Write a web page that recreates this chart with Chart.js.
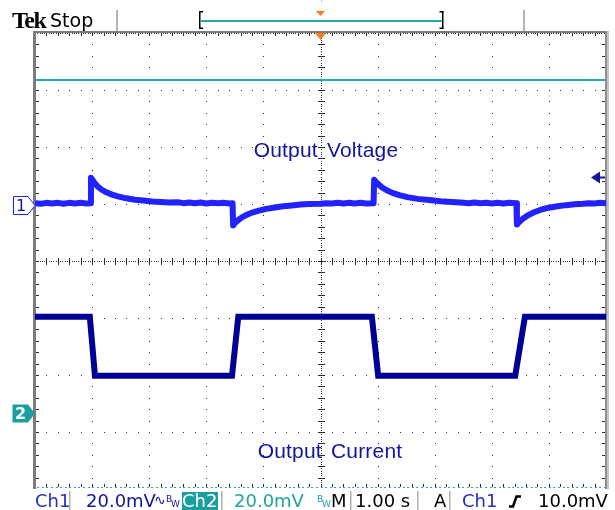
<!DOCTYPE html>
<html lang="en">
<head>
<meta charset="UTF-8">
<title>Output Voltage / Output Current</title>
<script src="https://cdn.jsdelivr.net/npm/chart.js@4.4.1/dist/chart.umd.min.js"></script>
<style>
  html, body { margin: 0; padding: 0; background: #fff; }
  canvas { display: block; }
</style>
</head>
<body>
<canvas id="scope" width="615" height="510"></canvas>
<script>
// time axis: 1.00 s/div, 10 div
// Ch1 = output voltage (mV, AC coupled), Ch2 = output current sense (mV)
const ch1Time = [0, 0.1, 0.2, 0.3, 0.4, 0.5, 0.6, 0.7, 0.8, 0.9, 0.97,
  0.98, 1.01, 1.05, 1.1, 1.17, 1.25, 1.35, 1.45, 1.6, 1.75, 1.9, 2.05, 2.2, 2.35, 2.5, 2.6, 2.7, 2.8, 2.9, 3.0, 3.1, 3.2, 3.3, 3.4, 3.46,
  3.47, 3.5, 3.56, 3.63, 3.72, 3.82, 3.92, 4.05, 4.2, 4.35, 4.5, 4.65, 4.8, 5.0, 5.1, 5.2, 5.3, 5.4, 5.5, 5.6, 5.7, 5.8, 5.93,
  5.94, 5.97, 6.02, 6.08, 6.16, 6.26, 6.38, 6.52, 6.7, 6.9, 7.1, 7.3, 7.45, 7.6, 7.7, 7.8, 7.9, 8.0, 8.1, 8.2, 8.3, 8.43,
  8.44, 8.48, 8.55, 8.64, 8.74, 8.86, 9.0, 9.15, 9.3, 9.45, 9.6, 9.7, 9.8, 9.9, 10];
const ch1Value = [0.7, 0.5, 0.8, 0.6, 0.8, 0.5, 0.8, 0.6, 0.8, 0.6, 0.7,
  9.6, 8.8, 7.6, 6.5, 5.4, 4.5, 3.7, 3.1, 2.4, 1.9, 1.6, 1.3, 1.1, 0.9, 1.0, 0.7, 0.9, 0.7, 0.9, 0.6, 0.8, 0.7, 0.8, 0.6, 0.7,
  -7.1, -6.3, -5.2, -4.2, -3.3, -2.5, -1.9, -1.3, -0.8, -0.4, -0.1, 0.2, 0.4, 0.5, 0.7, 0.6, 0.8, 0.6, 0.8, 0.6, 0.8, 0.6, 0.7,
  8.9, 8.2, 7.2, 6.2, 5.2, 4.3, 3.5, 2.8, 2.2, 1.8, 1.4, 1.1, 0.9, 0.7, 0.9, 0.7, 0.8, 0.6, 0.8, 0.6, 0.8, 0.7,
  -6.8, -5.9, -4.7, -3.5, -2.5, -1.6, -0.9, -0.4, 0.0, 0.3, 0.5, 0.7, 0.6, 0.8, 0.7];
const ch2Time = [0, 0.96, 1.05, 3.45, 3.56, 5.90, 6.01, 8.41, 8.58, 10];
const ch2Value = [33.8, 33.8, 13.1, 13.1, 33.8, 33.8, 13.1, 13.1, 33.8, 33.8];

const mvPerDiv = [20, 20];
const chPosition = [0.98, -2.67];   // ground marker, divisions from centre
const triggerLevel = 10;           // mV on Ch1
const traceLabels = ['Output Voltage', 'Output Current'];

const BLUE = '#2222ff', NAVY = '#14149a', TEAL = '#1a9e9e', ORANGE = '#ff7a1a';

function pts(xs, ys) {
  return xs.map((t, i) => ({ x: t, y: ys[i] }));
}
function chRange(i) {
  return { min: -(4 + chPosition[i]) * mvPerDiv[i], max: (4 - chPosition[i]) * mvPerDiv[i] };
}

const graticule = {
  id: 'graticule',
  beforeDatasetsDraw(chart) {
    const { ctx, scales } = chart;
    const px = v => Math.round(scales.x.getPixelForValue(v));
    const py = v => Math.round(scales.div.getPixelForValue(v));
    const top = py(4), bot = py(-4), left = px(0), right = px(10);
    ctx.save();
    ctx.fillStyle = '#2a2a2a';
    for (let i = 1; i < 10; i++) {
      if (i === 5) continue;
      for (let j = 1; j < 40; j++) ctx.fillRect(px(i), py(-4 + j / 5), 1, 1);
    }
    for (let k = -3; k <= 3; k++) {
      if (k === 0) continue;
      for (let j = 1; j < 50; j++) ctx.fillRect(px(j / 5), py(k), 1, 1);
    }
    // centre axes
    const cx = px(5), cy = py(0);
    for (let j = 1; j < 250; j++) if (j % 5) ctx.fillRect(px(j / 25), cy, 1, 1);
    for (let j = 1; j < 50; j++) ctx.fillRect(px(j / 5), cy - 3, 1, 7);
    for (let j = 1; j < 200; j++) if (j % 5) ctx.fillRect(cx, py(-4 + j / 25), 1, 1);
    for (let j = 1; j < 40; j++) ctx.fillRect(cx - 3, py(-4 + j / 5), 7, 1);
    // edge ticks
    for (let j = 1; j < 40; j++) {
      ctx.fillRect(left + 1, py(-4 + j / 5), 3, 1);
      ctx.fillRect(right - 4, py(-4 + j / 5), 3, 1);
    }
    for (let j = 1; j < 50; j++) ctx.fillRect(px(j / 5), top, 1, 3);
    for (let j = 1; j < 250; j++) ctx.fillRect(px(j / 25), top, 1, 1);
    for (let j = 1; j < 50; j++) ctx.fillRect(px(j / 5), bot - 5, 1, 3);
    // borders
    ctx.fillStyle = '#7c7c7c';
    ctx.fillRect(left - 2, top - 2, 3, bot - top + 2);
    ctx.fillRect(left - 2, top - 2, right - left + 4, 2);
    ctx.fillStyle = '#8e8e8e';
    ctx.fillRect(right - 1, top - 2, 2, bot - top + 2);
    ctx.fillStyle = '#c6c6c6';
    ctx.fillRect(right + 1, top - 2, 2, bot - top + 2);
    // teal reference lines
    ctx.fillStyle = '#2aa8a8';
    ctx.fillRect(left + 1, py(3.18) - 1, right - left - 2, 2);
    for (let j = 1; j < 250; j++) if (j % 2) ctx.fillRect(px(j / 25), bot - 2, 2, 1);
    ctx.restore();
  },
  afterDatasetsDraw(chart) {
    const { ctx, scales } = chart;
    const x0 = scales.x.getPixelForValue(0);
    const xr = scales.x.getPixelForValue(10);
    const xc = scales.x.getPixelForValue(5);
    const top = scales.div.getPixelForValue(4);
    ctx.save();
    // trigger position marker
    ctx.fillStyle = ORANGE;
    ctx.beginPath();
    ctx.moveTo(xc - 5.5, top); ctx.lineTo(xc + 5.5, top); ctx.lineTo(xc, top + 7);
    ctx.closePath(); ctx.fill();
    // ch1 ground marker
    let y = Math.round(scales.y1.getPixelForValue(0)) + 0.5;
    ctx.beginPath();
    ctx.moveTo(13.5, y - 9); ctx.lineTo(28, y - 9); ctx.lineTo(x0, y);
    ctx.lineTo(28, y + 9); ctx.lineTo(13.5, y + 9); ctx.closePath();
    ctx.fillStyle = '#fff'; ctx.fill();
    ctx.strokeStyle = BLUE; ctx.lineWidth = 1; ctx.stroke();
    ctx.fillStyle = NAVY;
    ctx.font = '16px "DejaVu Sans"';
    ctx.textAlign = 'center'; ctx.textBaseline = 'middle';
    ctx.fillText('1', 21, y + 1);
    // ch2 ground marker
    y = Math.round(scales.y2.getPixelForValue(0)) + 0.5;
    ctx.beginPath();
    ctx.moveTo(12.5, y - 9); ctx.lineTo(28, y - 9); ctx.lineTo(x0, y);
    ctx.lineTo(28, y + 9); ctx.lineTo(12.5, y + 9); ctx.closePath();
    ctx.fillStyle = TEAL; ctx.fill();
    ctx.fillStyle = '#fff';
    ctx.font = 'bold 16px "DejaVu Sans"';
    ctx.fillText('2', 20.5, y + 1);
    // trigger level arrow
    y = Math.round(scales.y1.getPixelForValue(triggerLevel)) + 0.5;
    ctx.fillStyle = NAVY;
    ctx.beginPath();
    ctx.moveTo(xr - 15, y); ctx.lineTo(xr - 6, y - 6); ctx.lineTo(xr - 6, y + 6);
    ctx.closePath(); ctx.fill();
    ctx.fillRect(xr - 7, y - 1, 6, 2);
    // trace labels
    ctx.font = '21px "Liberation Sans"';
    ctx.letterSpacing = '0.2px';
    ctx.wordSpacing = '3px';
    ctx.textAlign = 'center'; ctx.textBaseline = 'alphabetic';
    ctx.fillStyle = NAVY;
    ctx.fillText(traceLabels[0], 326, 157);
    ctx.fillText(traceLabels[1], 330, 458);
    ctx.restore();
  },
  afterDraw(chart) {
    const { ctx, scales } = chart;
    const xc = scales.x.getPixelForValue(5);
    ctx.save();
    // top bar
    ctx.fillStyle = '#000';
    ctx.textBaseline = 'alphabetic'; ctx.textAlign = 'left';
    ctx.font = 'bold 24px "Liberation Serif"';
    ctx.letterSpacing = '-1.5px';
    ctx.fillText('Tek', 12, 28);
    ctx.letterSpacing = '0px';
    ctx.font = '19px "DejaVu Sans"';
    ctx.fillText('Stop', 50, 27);
    ctx.fillStyle = '#b4b4b4';
    ctx.fillRect(116, 10, 2, 21);
    ctx.fillRect(523, 10, 2, 21);
    ctx.fillStyle = '#000';
    ctx.fillRect(199, 11, 1.5, 18); ctx.fillRect(199, 11, 4, 1.5); ctx.fillRect(199, 27.5, 4, 1.5);
    ctx.fillRect(442, 11, 1.5, 18); ctx.fillRect(439.5, 11, 4, 1.5); ctx.fillRect(439.5, 27.5, 4, 1.5);
    ctx.fillStyle = '#2aa8a8';
    ctx.fillRect(200, 20, 242, 2);
    ctx.fillStyle = ORANGE;
    ctx.beginPath();
    ctx.moveTo(xc - 4.5, 11); ctx.lineTo(xc + 4.5, 11); ctx.lineTo(xc, 16);
    ctx.closePath(); ctx.fill();
    ctx.fillStyle = '#c0c0c0';
    ctx.fillRect(Math.round(xc), 0, 1, 2);
    // status bar
    const base = 507;
    ctx.font = '18px "DejaVu Sans"';
    ctx.fillStyle = '#2030c0';
    ctx.fillText('Ch1', 35, base);
    ctx.fillStyle = NAVY;
    ctx.fillText('20.0mV', 86, base);
    ctx.font = '14px "DejaVu Sans"';
    ctx.fillText('\u223F', 154, base - 2);
    ctx.font = '9px "DejaVu Sans"';
    ctx.fillText('B', 166, 502); ctx.fillText('W', 171, 507);
    ctx.fillStyle = TEAL;
    ctx.fillRect(182, 492, 36, 18);
    ctx.font = '18px "DejaVu Sans"';
    ctx.fillStyle = '#fff';
    ctx.fillText('Ch2', 182, base);
    ctx.fillStyle = '#1fa3a3';
    ctx.fillText('20.0mV', 234, base);
    ctx.font = '9px "DejaVu Sans"';
    ctx.fillText('B', 317, 502); ctx.fillText('W', 322, 507);
    ctx.font = '18px "DejaVu Sans"';
    ctx.fillStyle = '#000';
    ctx.fillText('M', 331, base);
    ctx.fillText('1.00 s', 355, base);
    ctx.fillText('A', 434, base);
    ctx.fillStyle = '#2030c0';
    ctx.fillText('Ch1', 462, base);
    ctx.fillStyle = '#000';
    ctx.fillText('10.0mV', 538, base);
    ctx.lineWidth = 2.5; ctx.strokeStyle = '#000';
    ctx.beginPath();
    ctx.moveTo(509, 506.5); ctx.lineTo(513, 506.5); ctx.lineTo(516.5, 496.5); ctx.lineTo(521, 496.5);
    ctx.stroke();
    ctx.fillStyle = '#b0b0b0';
    [69, 221, 350, 417, 449].forEach(sx => ctx.fillRect(sx, 491, 1.5, 19));
    ctx.restore();
  }
};

new Chart(document.getElementById('scope'), {
  type: 'line',
  data: {
    datasets: [{
      label: 'Ch1',
      data: pts(ch1Time, ch1Value),
      yAxisID: 'y1',
      borderColor: BLUE,
      borderWidth: 6,
      borderJoinStyle: 'round',
      pointRadius: 0,
      tension: 0
    }, {
      label: 'Ch2',
      data: pts(ch2Time, ch2Value),
      yAxisID: 'y2',
      borderColor: '#000096',
      borderWidth: 6,
      borderJoinStyle: 'miter',
      pointRadius: 0,
      tension: 0
    }]
  },
  options: {
    responsive: false,
    animation: false,
    events: [],
    layout: { padding: { left: 35, right: 9, top: 33, bottom: 21 } },
    scales: {
      x: { type: 'linear', axis: 'x', min: 0, max: 10, display: false },
      y1: { type: 'linear', axis: 'y', position: 'left', ...chRange(0), display: false },
      y2: { type: 'linear', axis: 'y', position: 'left', ...chRange(1), display: false },
      div: { type: 'linear', axis: 'y', position: 'left', min: -4, max: 4, display: false }
    },
    plugins: { legend: { display: false }, tooltip: { enabled: false } }
  },
  plugins: [graticule]
});
</script>
</body>
</html>
